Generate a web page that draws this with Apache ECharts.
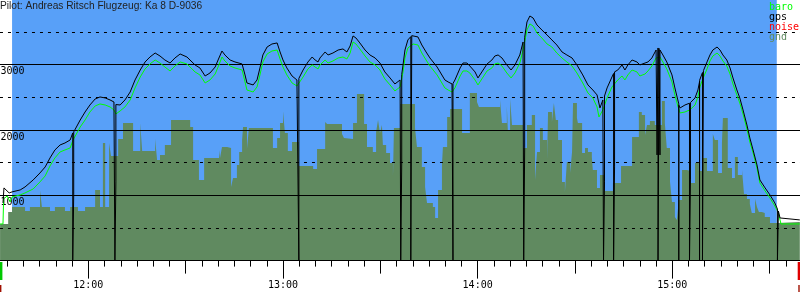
<!DOCTYPE html>
<html><head><meta charset="utf-8">
<script src="https://cdn.jsdelivr.net/npm/echarts@6/dist/echarts.min.js"></script>
<style>html,body{margin:0;padding:0;background:#fff}#c{width:800px;height:300px}</style>
</head><body><div id="c"></div>
<script>
// ---- data (time in minutes since midnight, altitude in m) ----
const titleText = 'Pilot: Andreas Ritsch Flugzeug: Ka 8 D-9036';
const legendNames = ['baro', 'gps', 'noise', 'gnd'];
const takeoff = 696.5, landing = 932.2;
const yLabelValues = [1000, 2000, 3000];
const edgeMarks = [[692.78, 0], [938.65, 1]];

const gps = [
[693.7,883],[694.0,1113],[695.6,1036],[696.5,1052],[699.0,1082],[700.5,1128],[703.0,1235],[705.1,1342],[706.7,1434],[708.2,1572],[709.7,1694],[711.3,1771],[712.8,1801],[714.4,1847],
[715.2,1955],[715.2,0],[715.5,1006],[715.5,1970],
[717.5,2153],[719.0,2276],[720.5,2383],[722.1,2475],[723.6,2506],[725.2,2491],[726.7,2460],[727.9,2429],
[728.2,2410],[728.2,0],[728.5,1205],[728.5,2390],
[728.9,2368],[729.8,2383],[731.3,2460],[732.9,2582],[734.4,2766],[736.0,2919],[737.5,3042],[739.0,3118],[740.6,3179],[742.1,3133],[743.6,3072],[745.2,3026],[746.7,3103],[748.3,3164],[750.4,3118],[752.9,2996],[754.4,2950],[756.0,2827],[757.5,2873],[759.1,2965],[760.0,3072],[761.2,3210],[762.1,3149],[763.7,3072],[765.2,3042],[767.4,3011],[768.3,2843],[768.9,2720],[770.8,2690],[772.0,2766],[772.9,2950],[773.8,3149],[775.1,3271],[776.6,3317],[778.2,3333],[779.1,3195],[780.0,3072],[781.2,2950],[782.8,2827],[784.3,2766],
[784.9,2782],[784.9,0],[784.9,2790],
[786.2,2919],[787.7,3042],[789.0,3118],[789.9,3072],[790.8,3042],[791.4,3103],[793.0,3195],[793.9,3149],[795.4,3179],[797.0,3225],[798.5,3241],[799.7,3195],[800.7,3287],[801.6,3440],[802.5,3409],[803.7,3333],[805.3,3225],[806.8,3149],[808.4,3103],[809.9,3026],[811.4,2889],[813.0,2797],[814.5,2705],[816.1,2766],
[816.3,2780],[816.3,0],[816.6,1495],[816.6,2850],
[817.0,2996],[817.6,3225],[818.5,3379],
[819.4,3430],[819.4,0],[819.7,0],[819.7,3445],
[820.1,3455],[821.6,3425],[822.8,3302],[824.1,3195],[825.3,3103],[827.5,2965],[829.9,2766],[830.9,2736],[832.1,2705],
[832.4,2705],[832.4,0],[832.4,2712],
[833.0,2766],[834.6,2950],[835.5,3026],[836.7,3026],[837.6,2980],[839.2,2889],[840.1,2797],[841.3,2889],[842.9,3011],[844.4,3072],[845.3,3133],[846.3,3149],[847.5,3103],[849.0,2996],[850.3,2919],[851.5,2996],[853.0,3149],[854.0,3348],
[854.2,3370],[854.2,0],[854.5,1725],[854.5,3420],
[855.2,3654],[856.1,3746],[857.1,3715],[858.3,3608],[859.8,3532],[861.4,3455],[862.9,3379],[864.4,3302],[866.0,3195],[867.5,3149],[869.1,3103],[870.6,2996],[872.4,2843],[874.0,2690],[875.5,2613],[876.8,2537],[877.7,2338],[878.6,2460],
[878.8,2480],[878.8,0],[879.1,1205],[879.1,2520],
[879.9,2644],[881.4,2812],
[881.9,2865],[881.9,0],[882.2,1434],[882.2,2890],
[883.2,2919],[884.5,2996],[885.4,2919],[886.3,2996],[887.6,3072],[889.1,3042],[890.0,2996],[891.6,3026],[892.5,3042],[893.7,3103],[895.0,3225],
[895.3,3240],[895.3,1618],[895.6,3256],[895.6,0],[895.9,0],[895.9,3250],[896.2,1618],[896.2,3225],
[897.1,3149],[898.3,3042],[899.9,2843],[900.8,2644],[901.7,2460],
[902.0,2400],[902.0,0],[902.0,2380],
[902.4,2338],[903.9,2383],
[905.3,2410],[905.3,0],[905.6,1235],[905.6,2420],
[907.0,2491],[907.9,2613],
[908.4,2740],[908.4,0],[908.4,2760],
[909.3,2880],[909.3,0],[909.6,0],[909.6,2910],
[910.7,3042],[911.6,3149],[912.5,3225],[913.8,3271],[914.7,3225],[915.6,3149],[916.8,3072],[917.8,2950],[918.7,2797],[919.9,2613],[920.8,2491],[921.8,2307],[923.0,2077],[923.9,1878],[924.9,1694],[926.1,1465],[927.0,1235],[928.6,1113],[930.1,1006],[931.6,883],
[932.4,790],[932.4,0],[932.7,0],[932.7,760],
[933.2,653],[933.8,623],[939.3,623]
];

const baro = [
[692.8,561],[693.7,561],[693.9,944],[695.0,990],[695.9,898],[696.5,975],[699.0,1006],[700.5,1036],[703.0,1097],[705.1,1205],[706.7,1296],[708.2,1450],[709.7,1572],[711.3,1664],[712.8,1694],[714.4,1725],[715.3,1847],[717.5,2046],[719.0,2153],[720.5,2276],[722.1,2368],[723.6,2399],[725.2,2383],[726.7,2353],[727.9,2307],[728.5,2245],[729.8,2292],[731.3,2353],[732.9,2460],[734.4,2644],[736.0,2812],[737.5,2935],[739.0,3011],[740.6,3072],[742.1,3026],[743.6,2965],[745.2,2904],[746.7,2980],[748.3,3042],[750.4,3011],[752.9,2889],[754.4,2843],[756.0,2720],[757.5,2766],[759.1,2858],[760.0,2965],[761.2,3118],[762.1,3057],[763.7,2980],[765.2,2950],[767.4,2919],[768.3,2736],[768.9,2613],[770.8,2582],[772.0,2659],[772.9,2843],[773.8,3042],[775.1,3164],[776.6,3210],[778.2,3225],[779.1,3088],[780.0,2965],[781.2,2843],[782.8,2720],[784.3,2674],[786.2,2812],[787.7,2935],[789.0,2996],[789.9,2965],[790.8,2935],[791.4,2996],[793.0,3072],[793.9,3026],[795.4,3057],[797.0,3103],[798.5,3118],[799.7,3088],[800.7,3179],[801.6,3348],[802.5,3317],[803.7,3241],[805.3,3133],[806.8,3042],[808.4,2996],[809.9,2919],[811.4,2782],[813.0,2690],[814.5,2598],[816.1,2659],[817.0,2889],[817.6,3103],[818.5,3256],[820.1,3317],[821.6,3302],[822.8,3179],[824.1,3072],[825.3,2980],[827.5,2843],[829.9,2644],[830.9,2613],[832.1,2582],[833.0,2644],[834.6,2827],[835.5,2904],[836.7,2904],[837.6,2873],[839.2,2766],[840.1,2690],[841.3,2782],[842.9,2904],[844.4,2950],[845.3,3011],[846.3,3026],[847.5,2980],[849.0,2873],[850.3,2797],[851.5,2873],[853.0,3026],[854.0,3225],[855.2,3532],[856.1,3624],[857.1,3593],[858.3,3486],[859.8,3409],[861.4,3317],[862.9,3271],[864.4,3179],[866.0,3103],[867.5,3042],[869.1,2980],[870.6,2873],[872.4,2720],[874.0,2567],[875.5,2491],[876.8,2353],[877.4,2200],[878.6,2307],[879.9,2491],[881.4,2659],[883.2,2766],[884.5,2827],[885.4,2766],[886.3,2843],[887.6,2919],[889.1,2889],[890.0,2827],[891.6,2858],[892.5,2904],[893.7,2980],[895.0,3103],[895.6,3133],[896.2,3118],[897.1,3042],[898.3,2935],[899.9,2736],[900.8,2537],[901.7,2368],[902.4,2261],[903.9,2276],[905.4,2307],[907.0,2383],[907.9,2506],[908.5,2659],[909.4,2782],[910.7,2935],[911.6,3057],[912.5,3133],[913.8,3179],[914.7,3133],[915.6,3057],[916.8,2980],[917.8,2858],[918.7,2705],[919.9,2537],[920.8,2414],[921.8,2245],[923.0,2016],[923.9,1817],[924.9,1649],[926.1,1419],[927.0,1189],[928.6,1067],[930.1,960],[931.6,837],[932.6,745],[933.5,561],[939.3,561]
];

const gnd = [
[692.8,561],[695.3,745],[696.5,821],[700.5,760],[702.0,821],[705.1,1081],[705.7,821],[708.2,760],[709.7,821],[712.8,760],[714.4,821],[716.8,760],[719.0,821],[722.1,1081],[723.6,821],[724.5,1801],[725.2,821],[726.4,1801],[727.0,1602],[729.2,1862],[730.7,2107],[733.8,1679],[736.0,2107],[736.6,1679],[740.6,1862],[741.2,1541],[742.1,1617],[743.6,1770],[745.5,2153],[751.4,2046],[752.3,1541],[754.1,1234],[755.7,1571],[760.3,1694],[760.6,1571],[761.2,1740],[762.8,1725],[764.0,1127],[764.6,1265],[765.8,1464],[766.5,1663],[767.4,1847],[767.7,2046],[768.9,1709],[769.5,2031],[776.9,1725],[778.2,1878],[779.1,2107],[780.0,2291],[780.6,1954],[781.5,1679],[782.8,1816],[784.9,1449],[789.3,1403],[790.5,1709],[793.0,2123],[793.6,2092],[798.2,1939],[798.8,1878],[799.4,1862],[801.6,2107],[802.8,2551],[805.0,2092],[805.9,1740],[807.7,1663],[808.7,1970],[809.3,2153],[809.9,1954],[810.5,2077],[810.8,1770],[811.8,1648],[813.0,1495],[813.9,1280],[814.2,2031],[816.1,2398],[820.7,2031],[821.3,1740],[822.8,1434],[823.8,1127],[824.4,882],[826.2,821],[826.9,653],[827.8,1081],[829.0,1464],[829.3,1740],[830.6,2199],[831.5,2322],[835.2,1954],[837.6,2567],[839.8,2429],[840.4,2352],[846.9,2460],[847.5,2107],[849.0,2368],[849.3,2000],[850.0,2475],[850.6,2077],[854.0,1725],[855.2,2077],[856.7,2230],[857.7,1234],[858.3,1663],[859.2,2031],[860.1,1847],[861.4,1541],[861.7,2276],[862.9,2123],[863.5,2414],[864.1,2153],[864.8,1847],[866.0,1204],[866.9,1051],[867.5,1510],[868.5,1342],[869.1,1663],[869.4,2414],[870.6,2184],[870.9,2107],[872.2,1648],[873.1,1725],[874.0,1663],[875.2,1587],[875.5,1388],[876.8,1112],[877.7,1311],[879.2,1066],[881.7,1189],[884.2,1449],[887.6,1893],[889.7,2276],[890.6,2230],[891.6,1924],[892.2,2077],[893.1,2138],[894.6,2077],[896.8,2444],[897.7,2107],[898.3,1725],[899.3,1204],[899.9,898],[900.8,668],[901.4,622],[902.0,928],[903.0,1388],[904.5,1372],[905.7,1189],[907.0,1495],[908.2,1372],[909.4,1571],[910.7,1372],[912.5,1939],[913.1,1847],[914.1,1342],[915.3,1801],[915.6,2184],[917.1,1418],[918.4,1265],[919.3,1587],[920.2,1311],[921.5,1388],[922.1,1020],[923.0,944],[923.9,867],[924.5,729],[925.5,944],[926.1,821],[926.7,745],[927.6,729],[928.5,668],[930.1,576],[932.3,591],[939.3,591]
];
const noise = [];

// ---- layout ----
const T_LEFT = 692.78, PPM = 3.2444;   // time at left canvas edge, px per minute
function gridFor(min, max) {
  return { left: (min - T_LEFT) * PPM, width: (max - min) * PPM, top: -0.6, height: 261.2,
           containLabel: false, outerBoundsMode: 'none' };
}
const MONO = 'DejaVu Sans Mono';
const SKY = '#58a0f8', GROUND = '#608a60';
const pad2 = n => (n < 10 ? '0' : '') + n;

const chart = echarts.init(document.getElementById('c'), null, { renderer: 'canvas' });
chart.setOption({
  animation: false,
  backgroundColor: '#fff',
  title: {
    text: titleText, left: 0, top: 1, padding: 0,
    textStyle: { fontFamily: 'Liberation Sans', fontSize: 10.2, fontWeight: 'normal', color: '#222' }
  },
  legend: {
    orient: 'vertical', left: 764, top: 2, padding: 0, itemGap: 0.3,
    itemWidth: 0, itemHeight: 10, icon: 'none', selectedMode: false,
    textStyle: { fontFamily: MONO, fontSize: 10, lineHeight: 10 },
    data: [
      { name: 'baro', textStyle: { color: '#00ff00' } },
      { name: 'gps', textStyle: { color: '#000000' } },
      { name: 'noise', textStyle: { color: '#ff0000' } },
      { name: 'gnd', textStyle: { color: GROUND } }
    ]
  },
  grid: [gridFor(690, 940), gridFor(660, 960)],
  xAxis: [
    { type: 'value', gridIndex: 0, min: 690, max: 940, interval: 5, position: 'bottom', z: 3,
      axisLine: { show: true, onZero: false, lineStyle: { color: '#000', width: 1 } },
      axisTick: { show: true, length: 6, lineStyle: { color: '#000', width: 1 } },
      axisLabel: { show: false }, splitLine: { show: false } },
    { type: 'value', gridIndex: 0, min: 690, max: 940, interval: 30, position: 'bottom', offset: 0, z: 3,
      axisLine: { show: false, onZero: false },
      axisTick: { show: true, length: 13, lineStyle: { color: '#000', width: 1 } },
      axisLabel: { show: false }, splitLine: { show: false } },
    { type: 'value', gridIndex: 1, min: 660, max: 960, interval: 60, position: 'bottom', offset: 0, z: 3,
      axisLine: { show: false, onZero: false },
      axisTick: { show: true, length: 18, lineStyle: { color: '#000', width: 1 } },
      axisLabel: { show: true, margin: 20, fontFamily: MONO, fontSize: 10, color: '#000',
        formatter: v => Math.floor(v / 60) + ':' + pad2(v % 60) },
      splitLine: { show: false } }
  ],
  yAxis: [
    { type: 'value', gridIndex: 0, min: 0, max: 4000, interval: 1000, position: 'left', z: 3,
      axisLine: { show: false }, axisTick: { show: false },
      axisLabel: { show: true, inside: true, margin: 9.5, verticalAlign: 'top', padding: [2, 0, 0, 0],
        fontFamily: MONO, fontSize: 10, color: '#000',
        formatter: v => (yLabelValues.indexOf(v) >= 0 ? String(v) : '') },
      splitLine: { show: true, lineStyle: { color: '#000', width: 1, type: 'solid' } } },
    { type: 'value', gridIndex: 0, min: 0, max: 4000, interval: 500, position: 'left', z: 2.5,
      axisLine: { show: false }, axisTick: { show: false }, axisLabel: { show: false },
      splitLine: { show: true, lineStyle: { color: '#000', width: 1, type: [3, 5], dashOffset: 7 } } },
    { type: 'value', gridIndex: 1, min: 0, max: 4000, show: false }
  ],
  series: [
    { name: 'sky', type: 'line', xAxisIndex: 0, yAxisIndex: 0, z: 1, data: [[takeoff, 0]],
      symbol: 'none', lineStyle: { width: 0 }, silent: true,
      markArea: { silent: true, z: 1, itemStyle: { color: SKY, opacity: 1 },
        data: [[{ xAxis: takeoff }, { xAxis: landing }]] } },
    { name: 'gnd', type: 'line', xAxisIndex: 0, yAxisIndex: 0, z: 2, data: gnd, step: 'end',
      symbol: 'none', color: GROUND, lineStyle: { width: 0 },
      areaStyle: { color: GROUND, opacity: 1 } },
    { name: 'noise', type: 'line', xAxisIndex: 0, yAxisIndex: 0, z: 4, data: noise,
      symbol: 'none', color: '#ff0000' },
    { name: 'baro', type: 'line', xAxisIndex: 0, yAxisIndex: 0, z: 4, data: baro,
      symbol: 'none', color: '#00ff00', lineStyle: { width: 1, color: '#00ff00' } },
    { name: 'gps', type: 'line', xAxisIndex: 0, yAxisIndex: 0, z: 5, data: gps,
      symbol: 'none', color: '#000', lineStyle: { width: 1, color: '#000' } },
    { name: 'marks', type: 'custom', xAxisIndex: 0, yAxisIndex: 0, z: 5, data: edgeMarks, clip: false,
      renderItem: (params, api) => {
        const p = api.coord([api.value(0), 0]);
        const k = api.value(1);
        return { type: 'group', children: [
          { type: 'rect', shape: { x: p[0], y: p[1] + 1.4, width: 2.4, height: 18 },
            style: { fill: k ? '#e00000' : '#00c800' } },
          { type: 'rect', shape: { x: p[0] + (k ? 0.6 : 0), y: p[1] + 24.4, width: 1.4, height: 7 },
            style: { fill: '#a01000' } }
        ] };
      } }
  ]
});
</script>
</body></html>
